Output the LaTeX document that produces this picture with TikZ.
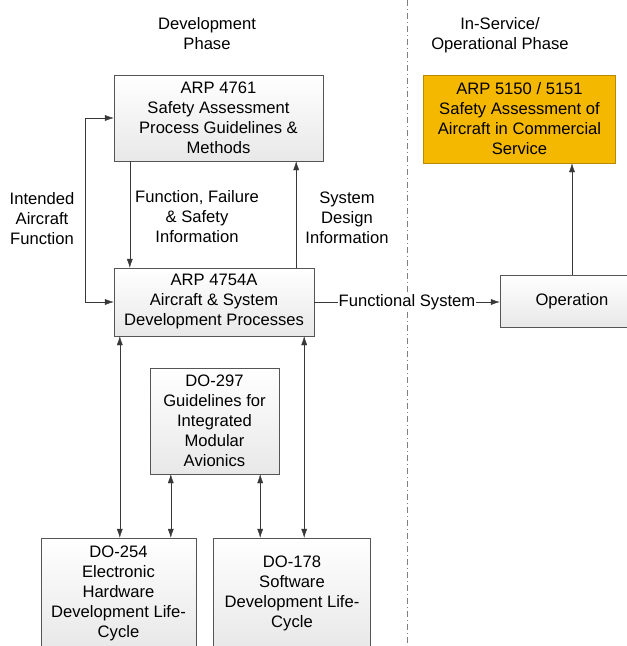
\documentclass[tikz,border=0pt]{standalone}
\usepackage{fontspec}
\setmainfont{Liberation Sans}
\usetikzlibrary{arrows.meta}
\usetikzlibrary{positioning}
\definecolor{boxline}{HTML}{555555}
\definecolor{arpgold}{HTML}{F5B800}
\definecolor{arpedge}{HTML}{B88A00}
\tikzset{
	blk/.style={draw=boxline, top color=white, bottom color=gray!18, align=center, inner sep=2pt},
	hilite/.style={draw=arpedge, fill=arpgold, align=center, inner sep=2pt},
	lbl/.style={align=center, inner sep=1pt},
	arr/.style={draw=black!78, -{Latex[length=9pt,width=6pt]}},
	dblarr/.style={draw=black!78, {Latex[length=9pt,width=6pt]}-{Latex[length=9pt,width=6pt]}},
	phaseline/.style={draw=gray, dash pattern=on 6pt off 3pt on 1pt off 3pt}
}

\begin{document}
\begin{tikzpicture}[x=1pt, y=-1pt, font=\fontsize{16.6}{20}\selectfont]
	\useasboundingbox (0,0) rectangle (627,646);
	\draw[phaseline] (407,0) -- (407,646);
	% phases
	\node[lbl] (devph) at (207,34) {Development\\Phase};
	\node[lbl] (opph) at (500,35) {In-Service/\\Operational Phase};
	% development boxes
	\node[blk, minimum width=209, minimum height=86] (a4761) at (218.5,118) {ARP 4761\\Safety Assessment\\Process Guidelines \&\\Methods};
	\node[blk, minimum width=200, minimum height=68] (a4754) at (214,302) {ARP 4754A\\Aircraft \& System\\Development Processes};
	\node[blk, minimum width=129, minimum height=106] (do297) at (214.5,421) {DO-297\\Guidelines for\\Integrated\\Modular\\Avionics};
	\node[blk, minimum width=155, minimum height=110] (do254) at (118.5,593) {DO-254\\Electronic\\Hardware\\Development Life-\\Cycle};
	\node[blk, minimum width=157, minimum height=110] (do178) at (292,593) {DO-178\\Software\\Development Life-\\Cycle};
	% in-service boxes
	\node[hilite, minimum width=192, minimum height=88] (a5150) at (519.5,119) {ARP 5150 / 5151\\Safety Assessment of\\Aircraft in Commercial\\Service};
	\node[blk, minimum width=144, minimum height=52] (oper) at (572,301) {Operation};
	% connectors
	\draw[dblarr] (a4761.west) -- ++(-29,0) |- (a4754.west);
	\node[lbl] (intfn) at (42,219) {Intended\\Aircraft\\Function};
	\draw[arr] ([xshift=16pt]a4761.south west) -- ([xshift=16pt]a4761.south west |- a4754.north);
	\node[lbl] (ffsinfo) at (197,217) {Function, Failure\\\& Safety\\Information};
	\draw[arr] ([xshift=-18pt]a4754.north east) -- ([xshift=-18pt]a4754.north east |- a4761.south);
	\node[lbl] (sdinfo) at (347,218) {System\\Design\\Information};
	\draw[arr] (a4754.east) -- node[midway, fill=white, inner sep=1pt] (funsys) {Functional System} (a4754.east -| oper.west);
	\draw[arr] (oper.north) -- (oper.north |- a5150.south);
	\draw[dblarr] ([xshift=6pt]a4754.south west) -- ([xshift=6pt]a4754.south west |- do254.north);
	\draw[dblarr] ([xshift=-10pt]a4754.south east) -- ([xshift=-10pt]a4754.south east |- do178.north);
	\draw[dblarr] ([xshift=21pt]do297.south west) -- ([xshift=21pt]do297.south west |- do254.north);
	\draw[dblarr] ([xshift=-19pt]do297.south east) -- ([xshift=-19pt]do297.south east |- do178.north);
\end{tikzpicture}
\end{document}
